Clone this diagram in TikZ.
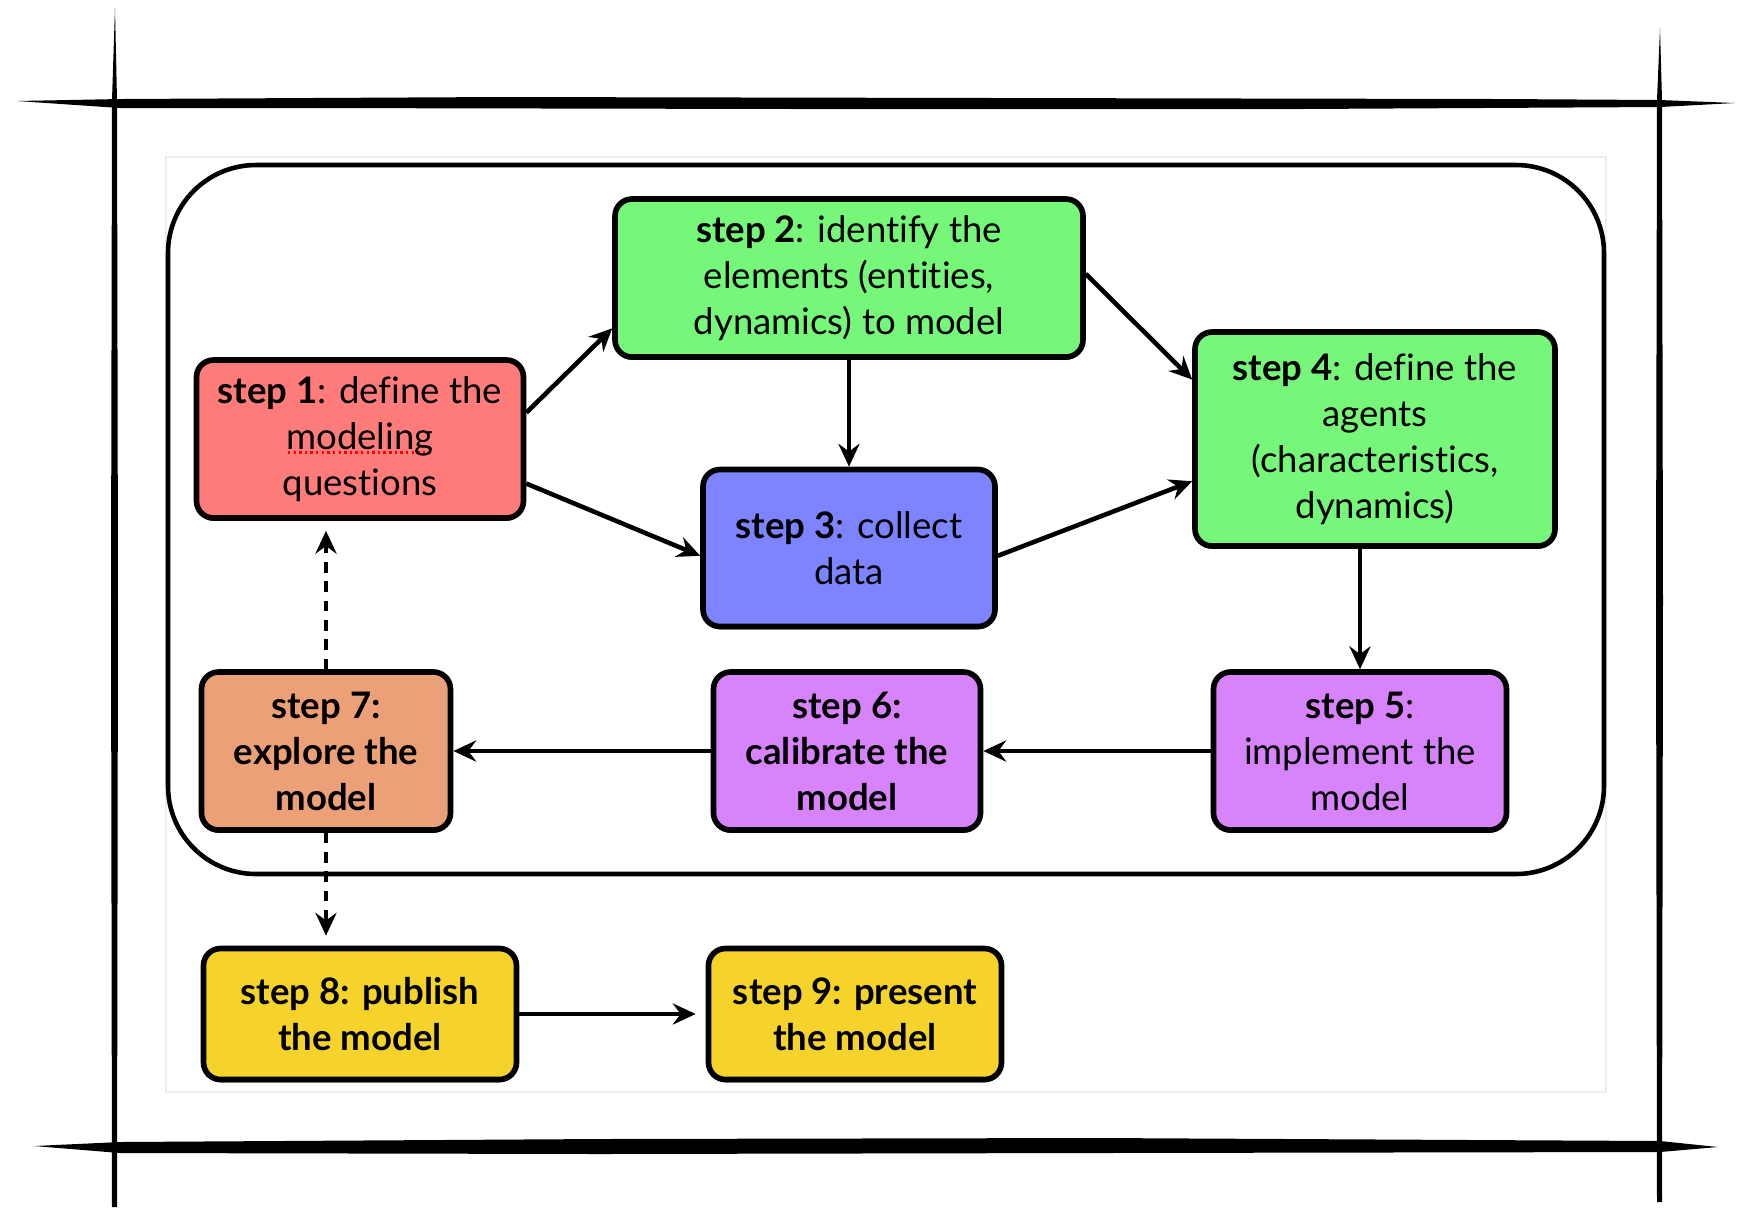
\documentclass[tikz,border=0pt]{standalone}
\usepackage{fontspec}
\setmainfont{Lato}[Ligatures=NoCommon]
\usetikzlibrary{arrows.meta,shadows}
\usepackage{xcolor}

\definecolor{stepred}{HTML}{FF7C7A}
\definecolor{stepgreen}{HTML}{76F77A}
\definecolor{stepblue}{HTML}{7C84FF}
\definecolor{steppurple}{HTML}{D783FB}
\definecolor{steporange}{HTML}{ECA078}
\definecolor{stepyellow}{HTML}{F5D32A}

\newcommand\spellmark[1]{\setbox0=\hbox{#1}\rlap{\raisebox{-1.3pt}{\color{red}\hbox to \wd0{\leaders\hbox to 1.6pt{\hss\rule{0.7pt}{0.7pt}\hss}\hfill}}}#1}

\begin{document}
\begin{tikzpicture}[x=0.1mm,y=-0.1mm,
                stepbox/.style = {draw, line width=1.6pt, rounded corners=1.7mm, align=center,
                    inner sep=0pt, font=\fontsize{10.4}{13.1}\selectfont,
                    drop shadow={shadow xshift=0pt, shadow yshift=-0.8pt, opacity=0.8, fill=black}},
                boldbox/.style = {stepbox, font=\fontsize{10.4}{13.1}\selectfont\bfseries},
                flow/.style = {line width=1.3pt, -{Stealth[length=6.5pt,width=6pt,inset=2.2pt]}},
                maybe/.style = {flow, dash pattern=on 3pt off 2.5pt}
                ]
                \useasboundingbox (0,0) rectangle (1761,1207);

                \fill (17,101) -- (120,99) -- (500,97) -- (1000,98) -- (1500,99) -- (1660,100) -- (1735,103)
                    -- (1660,107) -- (1300,109) -- (800,109) -- (300,108) -- (120,108) -- cycle;
                \fill (34,1146) -- (120,1142) -- (600,1139) -- (1100,1138) -- (1660,1141) -- (1718,1147)
                    -- (1660,1152) -- (1100,1153) -- (600,1154) -- (120,1153) -- cycle;
                \fill (115,8) -- (117,100) -- (118,600) -- (117,1207) -- (112,1207) -- (111,600) -- (112,100) -- cycle;
                \fill (1660,28) -- (1662,100) -- (1663,600) -- (1662,1202) -- (1657,1202) -- (1656,600) -- (1657,100) -- cycle;

                \draw[black!7, line width=0.4pt] (166,157) rectangle (1606,1092);
                \node[draw, line width=1.3pt, rounded corners=8.8mm, minimum width=143.6mm,
                    minimum height=70.9mm] (loopframe) at (886,519.5) {};

                \node[stepbox, fill=stepred, minimum width=32.7mm, minimum height=15.8mm] (step1) at (360,439)
                    {\textbf{step 1}: define the\\ \spellmark{modeling}\\ questions};
                \node[stepbox, fill=stepgreen, minimum width=46.8mm, minimum height=15.8mm] (step2) at (849,278)
                    {\textbf{step 2}: identify the\\ elements (entities,\\ dynamics) to model};
                \node[stepbox, fill=stepblue, minimum width=29.2mm, minimum height=15.7mm] (step3) at (849,548)
                    {\textbf{step 3}: collect\\ data};
                \node[stepbox, fill=stepgreen, minimum width=36mm, minimum height=21.4mm] (step4) at (1375,439)
                    {\textbf{step 4}: define the\\ agents\\ (characteristics,\\ dynamics)};
                \node[stepbox, fill=steppurple, minimum width=29.3mm, minimum height=15.8mm] (step5) at (1360,751)
                    {\textbf{step 5}:\\ implement the\\ model};
                \node[boldbox, fill=steppurple, minimum width=26.7mm, minimum height=15.8mm] (step6) at (847,751)
                    {step 6:\\ calibrate the\\ model};
                \node[boldbox, fill=steporange, minimum width=24.9mm, minimum height=15.8mm] (step7) at (326,751)
                    {step 7:\\ explore the\\ model};
                \node[boldbox, fill=stepyellow, minimum width=31.3mm, minimum height=13.1mm] (step8) at (360,1014)
                    {step 8: publish\\ the model};
                \node[boldbox, fill=stepyellow, minimum width=29.3mm, minimum height=13.1mm] (step9) at (855,1014)
                    {step 9: present\\ the model};

                \draw[flow] (step1.9) -- (step2.192);
                \draw[flow] (step1.345) -- (step3.183);
                \draw[flow] (step2) -- (step3);
                \draw[flow] (step2.1) -- (step4.162);
                \draw[flow] (step3.357) -- (step4.193);
                \draw[flow] (step4.south -| step5.north) -- (step5);
                \draw[flow] (step5) -- (step6);
                \draw[flow] (step6) -- (step7);
                \draw[maybe, shorten >=1mm] (step7.north) -- (step1.south -| step7.north);
                \draw[maybe, shorten >=1mm] (step7.south) -- (step8.north -| step7.south);
                \draw[flow, shorten >=1mm] (step8) -- (step9);
            \end{tikzpicture}
\end{document}
